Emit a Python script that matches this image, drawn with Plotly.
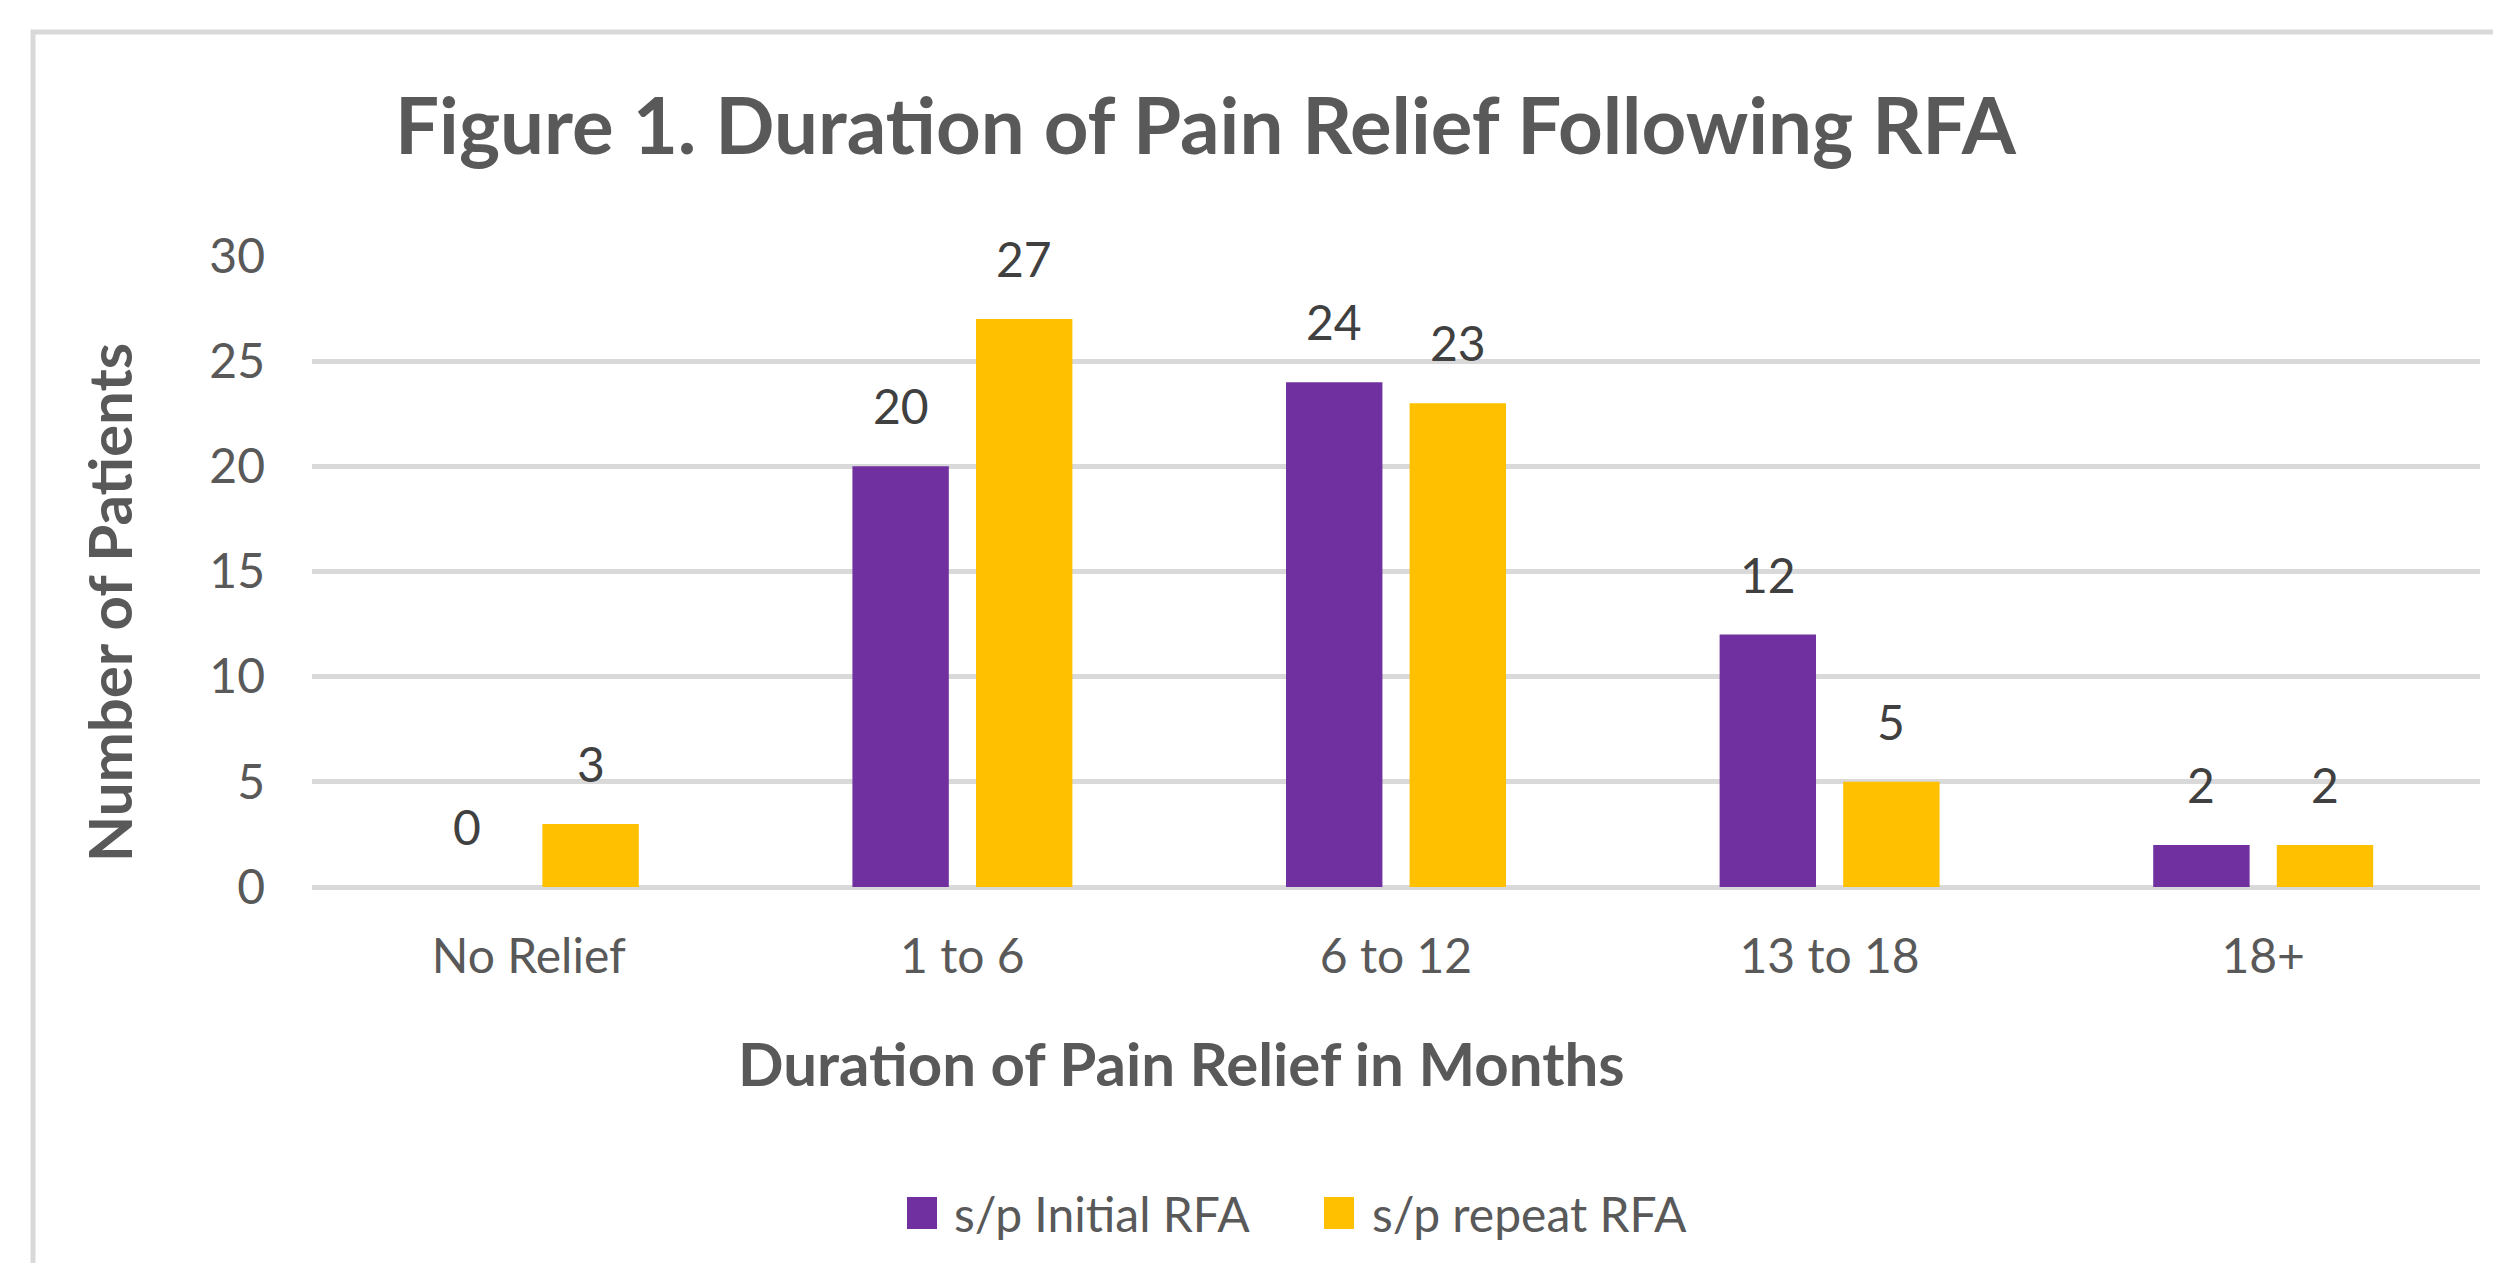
import plotly.graph_objects as go

# ---- data ----
categories = ["No Relief", "1 to 6", "6 to 12", "13 to 18", "18+"]
initial_rfa = [0, 20, 24, 12, 2]
repeat_rfa = [3, 27, 23, 5, 2]
series_names = ["s/p Initial RFA", "s/p repeat RFA"]
y_ticks = [0, 5, 10, 15, 20, 25, 30]

title_text = "Figure 1. Duration of Pain Relief Following RFA"
x_title = "Duration of Pain Relief in Months"
y_title = "Number of Patients"

# ---- style ----
OFF = 8                      # page body margin
W, H = 2501 - 2 * OFF, 1271 - 2 * OFF
PLOT_L, PLOT_R, PLOT_T, PLOT_B = 312, 2480, 256, 887   # target screen pixels
L, T = PLOT_L - OFF, PLOT_T - OFF
R, B = W - (PLOT_R - OFF), H - (PLOT_B - OFF)
PW, PH = W - L - R, H - T - B
FONT = "Lato"
TXT = "#595959"
LBL = "#404040"
GRID = "#d9d9d9"
colors = ["#7030A0", "#FFC000"]
BARGAP, BARGROUPGAP = 0.43, 0.22
TICK_SIZE = 48


def px(x):
    return (x - PLOT_L) / PW


def py(y):
    return (PLOT_B - y) / PH


fig = go.Figure()
series = [initial_rfa, repeat_rfa]
for name, vals, c in zip(series_names, series, colors):
    fig.add_trace(go.Bar(x=categories, y=vals, name=name,
                         marker=dict(color=c, line=dict(width=0)),
                         showlegend=False))

annotations = []
offset = (1 - BARGAP) / 4
for k, vals in enumerate(series):
    sign = -1 if k == 0 else 1
    for i, v in enumerate(vals):
        annotations.append(dict(x=i + sign * offset, y=v, xref="x", yref="y",
                                text=str(v), showarrow=False, yanchor="bottom",
                                yshift=30, font=dict(family=FONT, size=TICK_SIZE, color=LBL)))

# title
annotations.append(dict(x=px(1206), y=py(124), xref="paper", yref="paper",
                        text="<b>%s</b>" % title_text, showarrow=False,
                        xanchor="center", yanchor="middle",
                        font=dict(family=FONT, size=78, color=TXT)))
# axis titles
annotations.append(dict(x=px(1181), y=py(1063), xref="paper", yref="paper",
                        text="<b>%s</b>" % x_title, showarrow=False,
                        xanchor="center", yanchor="middle",
                        font=dict(family=FONT, size=60, color=TXT)))
annotations.append(dict(x=px(109), y=py(603), xref="paper", yref="paper",
                        text="<b>%s</b>" % y_title, showarrow=False, textangle=-90,
                        xanchor="center", yanchor="middle",
                        font=dict(family=FONT, size=60, color=TXT)))

# legend (custom swatches)
shapes = []
legend_items = [(907, 952), (1324, 1370)]
for (sx, tx), name, c in zip(legend_items, series_names, colors):
    shapes.append(dict(type="rect", xref="paper", yref="paper",
                       x0=px(sx), x1=px(sx + 30), y0=py(1229), y1=py(1197),
                       fillcolor=c, line=dict(width=0)))
    annotations.append(dict(x=px(tx), y=py(1213), xref="paper", yref="paper",
                            text=name, showarrow=False, xanchor="left", yanchor="middle",
                            font=dict(family=FONT, size=TICK_SIZE, color=TXT)))

# chart frame (right and bottom edges lie outside the picture)
shapes.append(dict(type="rect", xref="paper", yref="paper",
                   x0=px(33), x1=px(2540), y0=py(1320), y1=py(32),
                   line=dict(color=GRID, width=5), fillcolor="rgba(0,0,0,0)", layer="below"))

fig.update_layout(
    width=W, height=H,
    margin=dict(l=L, r=R, t=T, b=B, pad=0),
    paper_bgcolor="white", plot_bgcolor="white",
    barmode="group", bargap=BARGAP, bargroupgap=BARGROUPGAP,
    showlegend=False,
    font=dict(family=FONT, color=TXT),
    annotations=annotations,
    shapes=shapes,
)
fig.update_yaxes(range=[0, 30], tickvals=y_ticks, showgrid=True, gridcolor=GRID, gridwidth=5,
                 zeroline=True, zerolinecolor=GRID, zerolinewidth=5, showline=False, ticks="",
                 tickfont=dict(family=FONT, size=TICK_SIZE, color=TXT), ticklabelstandoff=46)
fig.update_xaxes(showgrid=False, showline=False, ticks="", zeroline=False,
                 tickfont=dict(family=FONT, size=TICK_SIZE, color=TXT), ticklabelstandoff=37)

fig.write_html("out.html")
